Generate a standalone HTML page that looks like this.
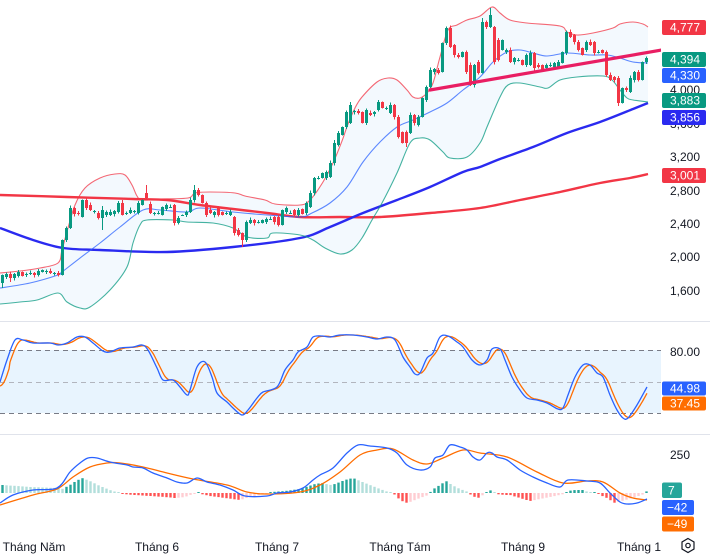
<!DOCTYPE html>
<html><head><meta charset="utf-8">
<style>
html,body{margin:0;padding:0;background:#fff;}
svg{display:block;font-family:"Liberation Sans",sans-serif;}
</style></head><body>
<svg id="c" width="710" height="555" viewBox="0 0 710 555" xmlns="http://www.w3.org/2000/svg">
<defs>
<clipPath id="cm"><rect x="0" y="0" width="661" height="320"/></clipPath>
<clipPath id="cs"><rect x="0" y="322" width="661" height="112"/></clipPath>
<clipPath id="cd"><rect x="0" y="436" width="661" height="100"/></clipPath>
</defs>
<rect width="710" height="555" fill="#fff"/>
<g id="gm" clip-path="url(#cm)"></g>
<line x1="0" y1="321.5" x2="710" y2="321.5" stroke="#e0e3eb" stroke-width="1"/>
<line x1="0" y1="434.5" x2="710" y2="434.5" stroke="#e0e3eb" stroke-width="1"/>
<rect x="0" y="350" width="661" height="63" fill="#2196f3" fill-opacity="0.1"/>
<line x1="0" y1="350.5" x2="661" y2="350.5" stroke="#787b86" stroke-dasharray="5,4" stroke-width="1"/>
<line x1="0" y1="382.5" x2="661" y2="382.5" stroke="#b2b5be" stroke-dasharray="5,4" stroke-width="1"/>
<line x1="0" y1="413.5" x2="661" y2="413.5" stroke="#787b86" stroke-dasharray="5,4" stroke-width="1"/>
<g id="gs" clip-path="url(#cs)"></g>
<g id="gd" clip-path="url(#cd)"></g>

<g font-size="12" fill="#131722">
<text x="670" y="94">4,000</text>
<text x="670" y="128">3,600</text>
<text x="670" y="161">3,200</text>
<text x="670" y="195">2,800</text>
<text x="670" y="228">2,400</text>
<text x="670" y="261">2,000</text>
<text x="670" y="295">1,600</text>
<text x="670" y="356">80.00</text>
<text x="670" y="459">250</text>
</g>
<g font-size="12" fill="#fff">
<rect x="662" y="20" width="44" height="15" rx="2" fill="#f23645"/><text x="670" y="31.7">4,777</text>
<rect x="662" y="52" width="44" height="15" rx="2" fill="#089981"/><text x="670" y="63.7">4,394</text>
<rect x="662" y="68" width="44" height="15" rx="2" fill="#2962ff"/><text x="670" y="79.7">4,330</text>
<rect x="662" y="93" width="44" height="15" rx="2" fill="#089981"/><text x="670" y="104.7">3,883</text>
<rect x="662" y="110" width="44" height="15" rx="2" fill="#2a2af0"/><text x="670" y="121.7">3,856</text>
<rect x="662" y="168" width="44" height="15" rx="2" fill="#f23645"/><text x="670" y="179.7">3,001</text>
<rect x="662" y="381.5" width="44" height="14" rx="2" fill="#2962ff"/><text x="670" y="392.7">44.98</text>
<rect x="662" y="396.5" width="44" height="14" rx="2" fill="#ff6d00"/><text x="670" y="407.7">37.45</text>
<rect x="662" y="482.5" width="20" height="15.5" rx="2" fill="#26a69a"/><text x="668" y="494.5">7</text>
<rect x="662" y="500" width="32" height="15" rx="2" fill="#2962ff"/><text x="667" y="511.7">−42</text>
<rect x="662" y="516.5" width="32" height="15" rx="2" fill="#ff6d00"/><text x="667" y="528.2">−49</text>
</g>
<g font-size="12" fill="#131722" text-anchor="middle">
<text x="34" y="551">Tháng Năm</text>
<text x="157" y="551">Tháng 6</text>
<text x="277" y="551">Tháng 7</text>
<text x="400" y="551">Tháng Tám</text>
<text x="523" y="551">Tháng 9</text>
<text x="639" y="551">Tháng 1</text>
</g>
<polygon points="688,538.5 694,542 694,549 688,552.5 682,549 682,542" fill="none" stroke="#131722" stroke-width="1.2"/>
<circle cx="688" cy="545.5" r="2.2" fill="none" stroke="#131722" stroke-width="1.2"/>
</svg>
<script>
const NS="http://www.w3.org/2000/svg";
function el(tag,a,p){const e=document.createElementNS(NS,tag);for(const k in a)e.setAttribute(k,a[k]);p.appendChild(e);return e;}
function smooth(p,noM){let d=(noM?'L':'M')+p[0][0]+','+p[0][1];for(let i=0;i<p.length-1;i++){const p0=p[i-1]||p[i],p1=p[i],p2=p[i+1],p3=p[i+2]||p2;const c1x=p1[0]+(p2[0]-p0[0])/6,c1y=p1[1]+(p2[1]-p0[1])/6,c2x=p2[0]-(p3[0]-p1[0])/6,c2y=p2[1]-(p3[1]-p1[1])/6;d+=' C'+c1x.toFixed(1)+','+c1y.toFixed(1)+' '+c2x.toFixed(1)+','+c2y.toFixed(1)+' '+p2[0]+','+p2[1];}return d;}
function interp(p,x){if(x<=p[0][0])return p[0][1];for(let i=1;i<p.length;i++){if(x<=p[i][0]){const t=(x-p[i-1][0])/(p[i][0]-p[i-1][0]);return p[i-1][1]+t*(p[i][1]-p[i-1][1]);}}return p[p.length-1][1];}
const gm=document.getElementById('gm'),gs=document.getElementById('gs'),gd=document.getElementById('gd');

const upper=[[0,273],[20,271],[40,268],[58,263],[62,250],[68,228],[75,205],[85,188],[100,178],[115,174],[125,175],[132,185],[137,196],[142,200],[160,199],[188,198],[195,193],[210,192],[235,193],[245,196],[265,200],[275,204],[300,205],[310,200],[323,182],[333,163],[342,141],[348,124],[355,108],[362,97],[377,82],[388,78],[397,80],[407,90],[413,97],[420,98],[427,93],[433,83],[440,57],[448,30],[457,25],[467,20],[480,16],[492,7],[500,13],[510,20],[527,23],[560,26],[567,32],[577,35],[593,33],[613,28],[620,24],[633,22],[643,24],[648,27]];
const mid=[[0,288],[30,283],[58,275],[62,272],[80,258],[100,243],[120,227],[143,210],[160,210],[187,212],[200,208],[233,212],[267,215],[300,217],[312,213],[330,203],[347,187],[363,162],[380,142],[397,127],[413,120],[430,112],[447,103],[463,90],[480,77],[493,62],[507,52],[520,50],[533,53],[547,56],[567,53],[590,55],[607,55],[620,58],[633,62],[648,63]];
const lower=[[0,304],[20,302],[37,300],[58,293],[67,302],[80,308],[90,307],[110,290],[127,267],[133,243],[140,225],[147,220],[173,220],[187,222],[213,223],[233,228],[247,237],[267,238],[273,233],[300,235],[313,240],[325,248],[340,254],[352,250],[362,238],[372,220],[382,203],[397,173],[410,143],[420,138],[430,140],[443,152],[450,158],[467,157],[480,143],[487,127],[500,97],[508,85],[520,83],[540,87],[548,88],[560,80],[577,77],[603,76],[612,80],[620,90],[627,98],[633,100],[648,102]];
const maBlue=[[0,228],[33,240],[63,248],[100,250],[167,252],[233,247],[300,238],[330,227],[363,213],[397,200],[430,187],[463,172],[480,167],[500,159],[533,147],[567,133],[600,122],[633,109],[648,103]];
const maRed=[[0,195],[67,197],[133,199],[167,200],[200,205],[233,209],[267,213],[300,217],[340,217],[380,217],[430,213],[480,208],[520,200],[560,192],[600,183],[630,178],[648,174]];

el('path',{d:smooth(upper)+' '+smooth(lower.slice().reverse(),true)+' Z',fill:'#2196f3','fill-opacity':'0.055',stroke:'none'},gm);
el('path',{d:smooth(maRed),fill:'none',stroke:'#f23645','stroke-width':'2.4'},gm);
el('path',{d:smooth(maBlue),fill:'none',stroke:'#2a2af0','stroke-width':'2.4'},gm);
el('path',{d:smooth(upper),fill:'none',stroke:'#f23645','stroke-opacity':'0.75','stroke-width':'1.1'},gm);
el('path',{d:smooth(mid),fill:'none',stroke:'#2962ff','stroke-opacity':'0.75','stroke-width':'1.1'},gm);
el('path',{d:smooth(lower),fill:'none',stroke:'#089981','stroke-opacity':'0.75','stroke-width':'1.1'},gm);

const C=[[283,275],[277,274],[274,278],[278,274],[276,272],[272,276],[275,274],[274,273],[273,275],[275,271],
[272,270],[272,271],[271,273],[273,273],[273,275],[275,240],[240,228],[228,208],[208,214],[213,214],
[217,200],[200,208],[205,210],[211,211],[213,218],[218,210],[215,212],[215,212],[214,211],[212,203],
[203,215],[213,213],[213,210],[211,211],[213,203],[205,200],[193,198],[204,213],[213,213],[213,213],
[215,207],[209,205],[207,207],[205,223],[223,218],[215,215],[215,212],[212,200],[200,190],[190,195],
[195,203],[203,215],[210,213],[215,212],[208,215],[212,215],[213,213],[215,212],[217,233],[230,235],
[233,240],[240,222],[223,220],[220,223],[222,222],[223,220],[222,219],[219,219],[217,222],[217,225],
[225,210],[212,208],[213,213],[210,215],[215,210],[209,214],[213,203],[207,193],[193,178],[178,178],
[178,173],[178,172],[177,163],[163,143],[145,133],[135,127],[127,112],[123,105],[112,111],[111,113],
[112,123],[123,110],[113,115],[114,112],[110,102],[102,108],[108,108],[113,105],[105,117],[117,137],
[132,143],[132,143],[133,115],[115,123],[125,117],[117,98],[100,87],[87,70],[72,69],[70,73],
[72,43],[43,28],[28,47],[45,55],[55,57],[57,52],[52,72],[65,85],[85,65],[62,73],
[73,22],[22,27],[27,15],[27,62],[40,60],[50,40],[52,50],[50,62],[62,58],[60,60],
[60,65],[65,55],[65,53],[53,68],[65,67],[65,70],[68,65],[66,65],[67,63],[67,62],
[63,52],[53,32],[32,37],[35,42],[42,50],[48,55],[50,42],[42,45],[42,53],[52,52],
[50,53],[52,75],[75,80],[77,80],[78,103],[103,88],[88,90],[92,78],[80,72],[72,80],
[80,62],[62,58]];
const hiOv={36:185,48:185,122:8,120:18,30:200,25:206,83:140,87:102};
const loOv={60:247,154:106,101:147,25:230,2:282,0:288};
for(let i=0;i<C.length;i++){
 const x=2.5+4*i,o=C[i][0],c=C[i][1];
 const up=c<=o; const col=up?'#089981':'#f23645';
 const top=Math.min(o,c),bot=Math.max(o,c);
 let hi=top-(0.5+((i*37)%5)/2), lo=bot+(0.5+((i*53)%5)/2);
 if(hiOv[i]!==undefined)hi=hiOv[i]; if(loOv[i]!==undefined)lo=loOv[i];
 el('rect',{x:(x-0.5).toFixed(1),y:hi.toFixed(1),width:'1',height:(lo-hi).toFixed(1),fill:col},gm);
 el('rect',{x:(x-1.5).toFixed(1),y:top,width:'3',height:Math.max(1,bot-top),fill:col},gm);
}
el('line',{x1:'430',y1:'90',x2:'662',y2:'50',stroke:'#e91e63','stroke-width':'3.2','stroke-linecap':'round'},gm);

// Stochastic RSI
const K=[[0,382],[7,360],[15,340],[23,340],[33,343],[50,343],[58,345],[67,343],[77,337],[85,337],[93,343],[103,351],[110,352],[120,348],[133,347],[142,345],[148,350],[157,368],[163,380],[173,380],[180,387],[187,395],[190,390],[197,367],[205,362],[212,377],[217,393],[227,402],[233,408],[242,415],[248,410],[257,398],[263,392],[277,387],[285,370],[293,360],[298,352],[307,347],[313,337],[322,336],[330,337],[340,335],[353,335],[367,337],[377,339],[387,337],[395,340],[403,357],[410,367],[415,374],[420,373],[427,358],[433,353],[440,337],[448,336],[457,342],[463,347],[472,360],[480,365],[487,360],[492,349],[500,349],[505,360],[512,377],[520,390],[527,398],[537,400],[547,403],[558,409],[563,408],[568,395],[575,377],[583,365],[590,365],[597,373],[603,377],[610,395],[617,410],[623,418],[628,418],[637,405],[647,387]];
let dp=[];
for(let x=0;x<=647;x+=1){let s=0;for(let j=0;j<=7;j++)s+=interp(K,x-j);dp.push(x+','+(s/8+ (x<10?4:0)).toFixed(1));}
el('polyline',{points:dp.join(' '),fill:'none',stroke:'#ff6d00','stroke-width':'1.3'},gs);
el('path',{d:smooth(K),fill:'none',stroke:'#2962ff','stroke-width':'1.3'},gs);

// MACD
const H=[[2,8],[17,7],[30,6],[57,5],[62,4],[70,8],[76,12],[82,15],[90,12],[100,7],[110,3],[116,1],[122,-1],[135,-2],[150,-3],[165,-4],[175,-5],[185,-4],[193,-1],[197,1],[201,-1],[210,-3],[225,-5],[240,-7],[250,-4],[265,-1],[272,1],[285,2],[300,4],[315,9],[322,10],[330,8],[335,9],[345,13],[353,15],[365,10],[380,4],[388,1],[393,0],[398,-5],[405,-10],[410,-9],[420,-5],[428,-2],[432,3],[440,8],[446,12],[452,8],[460,4],[468,1],[472,-3],[478,-5],[483,-2],[488,2],[492,3],[496,-1],[505,-2],[510,-2],[520,-5],[530,-8],[540,-6],[555,-3],[564,-1],[568,2],[575,3],[583,3],[588,1],[597,1],[600,-2],[607,-5],[615,-10],[622,-8],[632,-5],[642,-2],[647,2]];
let prev=0;
for(let i=0;i<162;i++){
 const x=2.5+4*i; let h=interp(H,x);
 let col;
 if(h>=0)col=(h>=prev)?'#26a69a':'#b2dfdb'; else col=(h<=prev)?'#ff5252':'#ffcdd2';
 const hh=Math.max(1,Math.abs(h));
 el('rect',{x:(x-1.2).toFixed(1),y:(h>=0?493-hh:493).toFixed(1),width:'2.4',height:hh.toFixed(1),fill:col},gd);
 prev=h;
}
const M=[[0,503],[13,495],[33,490],[57,488],[70,472],[80,463],[88,458],[97,458],[110,462],[127,465],[133,467],[143,468],[153,473],[167,478],[177,482],[187,483],[197,478],[207,482],[220,485],[233,490],[245,496],[267,496],[277,493],[290,492],[303,488],[313,480],[320,475],[333,468],[347,453],[358,445],[370,446],[387,448],[397,453],[407,465],[420,470],[430,467],[435,458],[443,455],[450,445],[460,447],[467,450],[473,457],[480,460],[487,453],[492,453],[497,457],[507,460],[520,470],[533,477],[547,483],[560,487],[568,480],[587,481],[600,483],[610,493],[620,502],[627,504],[637,503],[647,499]];
const S=[[0,505],[33,495],[57,489],[73,477],[90,467],[107,463],[120,463],[143,467],[167,473],[193,479],[227,485],[247,492],[267,494],[300,492],[320,485],[340,472],[360,455],[377,450],[393,449],[413,460],[427,464],[443,458],[463,450],[480,453],[507,457],[537,472],[563,483],[587,481],[603,482],[620,493],[633,498],[647,500]];
el('path',{d:smooth(S),fill:'none',stroke:'#ff6d00','stroke-width':'1.3'},gd);
el('path',{d:smooth(M),fill:'none',stroke:'#2962ff','stroke-width':'1.3'},gd);
</script>
</body></html>
